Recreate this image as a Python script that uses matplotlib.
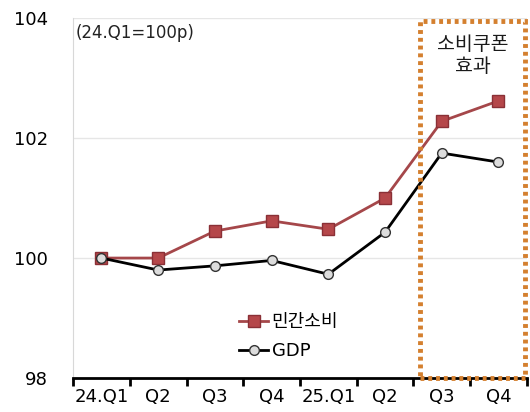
import matplotlib
matplotlib.use('Agg')
import matplotlib.pyplot as plt
from matplotlib.patches import Rectangle

plt.rcParams['font.family'] = ['DejaVu Sans', 'Noto Sans CJK KR']

# 분기별 지수 (24.Q1=100)
quarters = ['24.Q1', 'Q2', 'Q3', 'Q4', '25.Q1', 'Q2', 'Q3', 'Q4']
consumption = [100.0, 100.0, 100.45, 100.62, 100.48, 101.0, 102.28, 102.62]
gdp = [100.0, 99.8, 99.87, 99.96, 99.73, 100.43, 101.75, 101.6]

fig = plt.figure(figsize=(5.3, 4.12), dpi=100)
ax = fig.add_axes([0.138, 0.0825, 0.856, 0.8735])

x = list(range(len(quarters)))
ax.plot(x, consumption, color='#A5474A', lw=2, marker='s', ms=9,
        mfc='#B5474A', mec='#8A3036', mew=1, label='민간소비', zorder=4)
ax.plot(x, gdp, color='black', lw=2, marker='o', ms=7,
        mfc='#DCDCDC', mec='#333333', mew=1, label='GDP', zorder=4)

ax.set_xlim(-0.5, len(quarters) - 0.5)
ax.set_ylim(98, 104)
ax.set_yticks([98, 100, 102, 104])
ax.yaxis.grid(True, color='#E6E6E6', lw=1)
ax.set_axisbelow(True)

ax.set_xticks(x)
ax.set_xticklabels(quarters, fontsize=13)
ax.set_xticks([i - 0.5 for i in range(len(quarters) + 1)], minor=True)
ax.tick_params(axis='x', which='major', length=0, pad=7)
ax.tick_params(axis='x', which='minor', length=6, width=2, direction='out', color='black')
ax.tick_params(axis='y', length=0, labelsize=13, pad=18)

for s in ['top', 'right']:
    ax.spines[s].set_visible(False)
ax.spines['left'].set_color('#D8D8D8')
ax.spines['bottom'].set_color('black')
ax.spines['bottom'].set_linewidth(2)

# 소비쿠폰 효과 구간 점선 박스
box = Rectangle((5.62, 98.0), 1.84, 5.96, fill=False, edgecolor='#D4802F',
                lw=3.5, linestyle=(0, (0.8, 0.8)), zorder=5, clip_on=False)
ax.add_patch(box)
ax.text(6.54, 103.74, '소비쿠폰\n효과', ha='center', va='top', fontsize=14,
        family='Noto Sans CJK KR', color='#1A1A1A', linespacing=1.1)

ax.text(0.005, 0.985, '(24.Q1=100p)', transform=ax.transAxes, ha='left', va='top',
        fontsize=12, color='#222222')

ax.legend(loc='lower left', bbox_to_anchor=(0.33, 0.005), frameon=False, fontsize=13,
          handlelength=1.6, handletextpad=0.2, labelspacing=0.6)

fig.savefig('out.png', dpi=100)
